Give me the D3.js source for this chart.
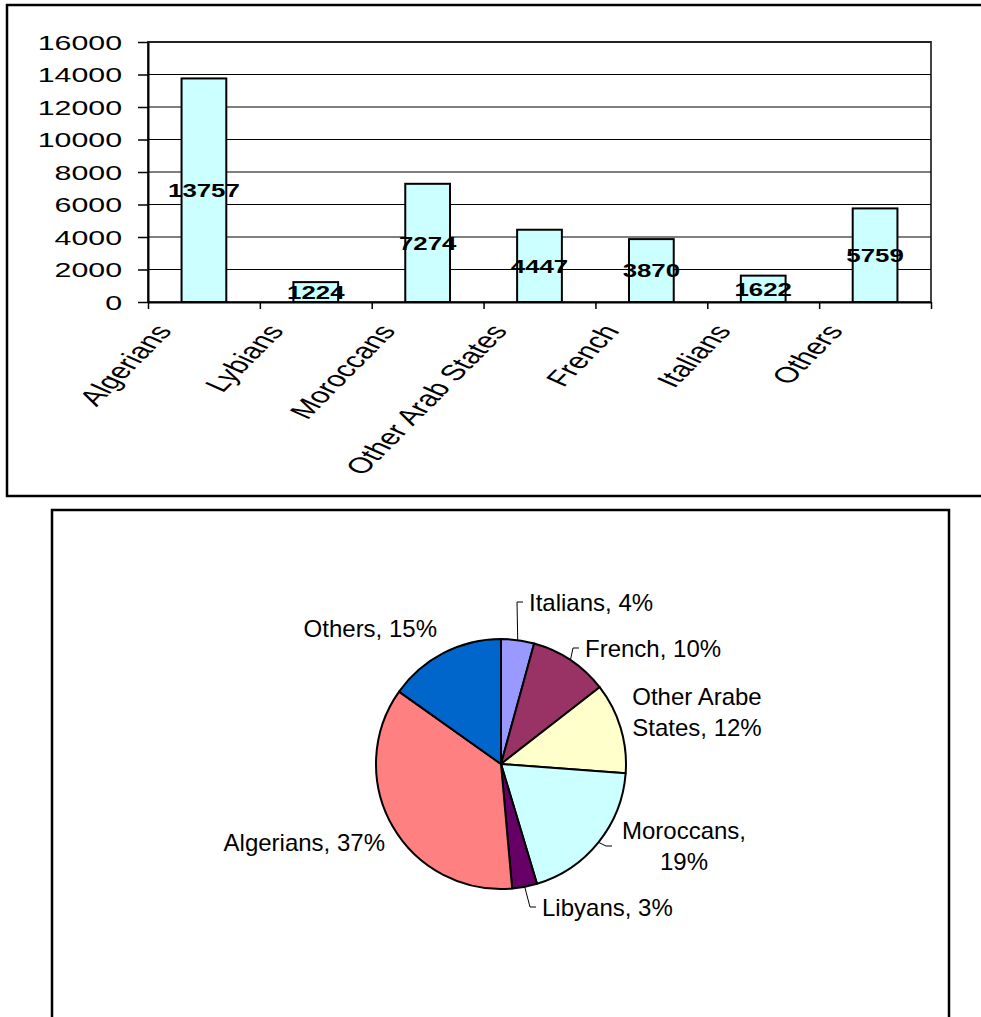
<!DOCTYPE html>
<html>
<head>
<meta charset="utf-8">
<script src="https://cdn.jsdelivr.net/npm/d3@7"></script>
<style>
  body { margin: 0; background: #fff; }
  svg { display: block; }
  text { font-family: "Liberation Sans", Arial, sans-serif; fill: #000; }
</style>
</head>
<body>
<svg id="chart" width="981" height="1017"></svg>
<script>
// bar chart data
const categories = ["Algerians", "Lybians", "Moroccans", "Other Arab States", "French", "Italians", "Others"];
const counts = [13757, 1224, 7274, 4447, 3870, 1622, 5759];
const yTicks = [0, 2000, 4000, 6000, 8000, 10000, 12000, 14000, 16000];

// pie chart data (clockwise from 12 o'clock)
const pieNames = ["Italians", "French", "Other Arabe States", "Moroccans", "Libyans", "Algerians", "Others"];
const pieCounts = [1622, 3870, 4447, 7274, 1224, 13757, 5759];
const piePercents = ["4%", "10%", "12%", "19%", "3%", "37%", "15%"];
const pieColors = ["#9999FF", "#993366", "#FFFFCC", "#CCFFFF", "#660066", "#FF8080", "#0066CC"];

// label placement for the pie, relative to its centre
const pieLabelLayout = [
  { dx: 28, dy: -162, anchor: "start", leader: true },
  { dx: 84, dy: -116, anchor: "start", leader: true },
  { dx: 196, dy: -52, anchor: "middle", wrap: 2 },
  { dx: 183, dy: 82, anchor: "middle", wrap: 1, leader: true, leaderX: 117 },
  { dx: 41, dy: 143, anchor: "start", leader: true },
  { dx: -116, dy: 78, anchor: "end" },
  { dx: -64, dy: -136, anchor: "end" }
];

const svg = d3.select("#chart");

// ---------- bar chart ----------
svg.append("rect")
  .attr("x", 7).attr("y", 5)
  .attr("width", 1000).attr("height", 491)
  .attr("fill", "none").attr("stroke", "#000").attr("stroke-width", 2.5);

const plot = { left: 148, right: 931, top: 42, bottom: 302 };

const x = d3.scaleBand()
  .domain(categories)
  .range([plot.left, plot.right])
  .paddingInner(0.6)
  .paddingOuter(0.3);

const xEdge = d3.scaleLinear()
  .domain([0, categories.length])
  .range([plot.left, plot.right]);

const y = d3.scaleLinear()
  .domain([0, 16000])
  .range([plot.bottom, plot.top]);

// plot area frame
svg.append("rect")
  .attr("x", plot.left).attr("y", plot.top)
  .attr("width", plot.right - plot.left).attr("height", plot.bottom - plot.top)
  .attr("fill", "none").attr("stroke", "#444").attr("stroke-width", 2);

// grid lines
svg.append("g")
  .selectAll("line")
  .data(yTicks.filter(d => d > 0))
  .join("line")
  .attr("x1", plot.left).attr("x2", plot.right)
  .attr("y1", d => y(d)).attr("y2", d => y(d))
  .attr("stroke", "#000").attr("stroke-width", 1);

// bars
svg.append("g")
  .selectAll("rect")
  .data(counts)
  .join("rect")
  .attr("x", (d, i) => x(categories[i]))
  .attr("y", d => y(d))
  .attr("width", x.bandwidth())
  .attr("height", d => y(0) - y(d))
  .attr("fill", "#CCFFFF")
  .attr("stroke", "#000")
  .attr("stroke-width", 2);

// value labels, centred in each bar
svg.append("g")
  .selectAll("text")
  .data(counts)
  .join("text")
  .attr("transform", (d, i) =>
    `translate(${x(categories[i]) + x.bandwidth() / 2}, ${(y(d) + y(0)) / 2}) scale(1.36,1)`)
  .attr("text-anchor", "middle")
  .attr("dy", "0.36em")
  .attr("font-size", 19)
  .attr("font-weight", "bold")
  .text(d => d);

// y axis
const yAxis = svg.append("g")
  .attr("transform", `translate(${plot.left}, 0)`)
  .call(d3.axisLeft(y).tickValues(yTicks).tickSize(10).tickSizeOuter(0).tickFormat(d3.format("d")));
yAxis.select(".domain").attr("stroke", "#000").attr("stroke-width", 2);
yAxis.selectAll(".tick line").attr("stroke", "#000").attr("stroke-width", 1.5);
yAxis.selectAll(".tick text")
  .attr("x", 0).attr("dy", "0.36em")
  .attr("transform", "translate(-26,0) scale(1.48,1)")
  .attr("text-anchor", "end")
  .attr("font-size", 20.5)
  .attr("font-family", null)
  .attr("fill", "#000");

// x axis: ticks at category boundaries
const xAxis = svg.append("g")
  .attr("transform", `translate(0, ${plot.bottom})`)
  .call(d3.axisBottom(xEdge).tickValues(d3.range(categories.length + 1)).tickSize(7).tickSizeOuter(0).tickFormat(""));
xAxis.select(".domain").attr("stroke", "#000").attr("stroke-width", 2);
xAxis.selectAll(".tick line").attr("stroke", "#000").attr("stroke-width", 1.5);

// x labels
const xLabels = svg.append("g")
  .attr("transform", `translate(0, ${plot.bottom})`)
  .call(d3.axisBottom(x).tickSize(0).tickSizeOuter(0));
xLabels.select(".domain").remove();
xLabels.selectAll(".tick text")
  .attr("x", 0).attr("y", 0).attr("dy", 0)
  .attr("transform", "translate(-31,29) scale(1.5,1) rotate(-56.3)")
  .attr("text-anchor", "end")
  .attr("font-size", 22)
  .attr("font-family", null)
  .attr("fill", "#000");

// ---------- pie chart ----------
svg.append("rect")
  .attr("x", 52).attr("y", 510)
  .attr("width", 897).attr("height", 600)
  .attr("fill", "none").attr("stroke", "#000").attr("stroke-width", 2.5);

const cx = 501, cy = 764, radius = 125;

const pie = d3.pie().sort(null).value(d => d);
const arcs = pie(pieCounts);
const arc = d3.arc().innerRadius(0).outerRadius(radius);

const pieG = svg.append("g").attr("transform", `translate(${cx}, ${cy})`);

pieG.selectAll("path")
  .data(arcs)
  .join("path")
  .attr("d", arc)
  .attr("fill", (d, i) => pieColors[i])
  .attr("stroke", "#000")
  .attr("stroke-width", 2)
  .attr("stroke-linejoin", "round");

// leader lines
const midPoint = d => {
  const a = (d.startAngle + d.endAngle) / 2;
  return [Math.sin(a) * radius, -Math.cos(a) * radius];
};

pieG.selectAll("polyline")
  .data(arcs.filter((d, i) => pieLabelLayout[i].leader))
  .join("polyline")
  .attr("points", d => {
    const L = pieLabelLayout[d.index];
    const p = midPoint(d);
    const endX = (L.leaderX !== undefined ? L.leaderX : L.dx) - 6;
    return [p, [endX - 6, L.dy], [endX, L.dy]].map(q => q.join(",")).join(" ");
  })
  .attr("fill", "none")
  .attr("stroke", "#000")
  .attr("stroke-width", 1);

// labels
pieG.selectAll("text")
  .data(arcs)
  .join("text")
  .attr("x", (d, i) => pieLabelLayout[i].dx)
  .attr("y", (d, i) => pieLabelLayout[i].dy)
  .attr("text-anchor", (d, i) => pieLabelLayout[i].anchor)
  .attr("font-size", 24)
  .each(function (d, i) {
    const L = pieLabelLayout[i];
    const words = `${pieNames[i]}, ${piePercents[i]}`.split(" ");
    const lines = L.wrap ? [words.slice(0, L.wrap).join(" "), words.slice(L.wrap).join(" ")] : [words.join(" ")];
    const t = d3.select(this);
    lines.forEach((line, k) => {
      t.append("tspan")
        .attr("x", L.dx)
        .attr("dy", k === 0 ? `${0.36 - (lines.length - 1) * 0.66}em` : "1.32em")
        .text(line);
    });
  });
</script>
</body>
</html>
